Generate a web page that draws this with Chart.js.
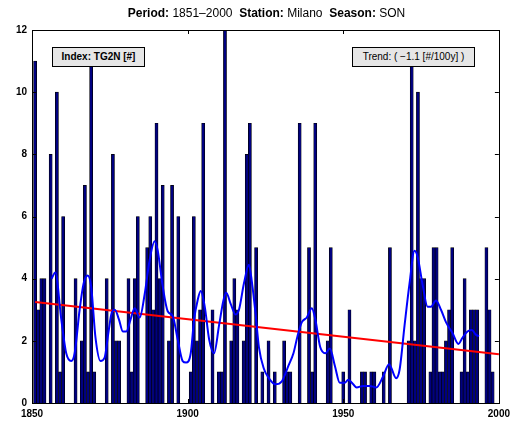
<!DOCTYPE html>
<html>
<head>
<meta charset="utf-8">
<script src="https://cdn.jsdelivr.net/npm/chart.js@4.4.1/dist/chart.umd.min.js"></script>
<style>
body { margin: 0; background: #fff; }
#wrap { position: relative; width: 515px; height: 425px; font-family: "Liberation Sans", Arial, sans-serif; }
#title { position: absolute; left: 0; top: 6px; width: 533px; text-align: center; font-size: 12px; color: #000; white-space: pre; }
.box { position: absolute; top: 47px; height: 18px; line-height: 18px; border: 1px solid #000; background: #e6e6e6; font-size: 10px; text-align: center; color: #000; white-space: pre; }
#idx { left: 52px; width: 91px; font-weight: bold; }
#trend { left: 352px; width: 121px; }
</style>
</head>
<body>
<div id="wrap">
  <canvas id="c" width="515" height="425"></canvas>
  <div id="title"><b>Period:</b> 1851–2000  <b>Station:</b> Milano  <b>Season:</b> SON</div>
  <div class="box" id="idx">Index: TG2N [#]</div>
  <div class="box" id="trend">Trend: ( −1.1 [#/100y] )</div>
</div>
<script>
const firstYear = 1851;
// TG2N counts per year, 1851..2000
const counts = [
  11, 3, 4, 4, 0, 8, 0, 10, 1, 6,
  0, 0, 0, 4, 0, 2, 7, 1, 11, 1,
  0, 0, 0, 4, 0, 8, 2, 2, 0, 0,
  4, 1, 4, 6, 0, 0, 5, 6, 3, 9,
  4, 7, 0, 2, 7, 0, 6, 0, 0, 0,
  1, 6, 2, 3, 9, 0, 0, 3, 0, 1,
  1, 12, 0, 2, 4, 3, 0, 2, 8, 9,
  0, 5, 0, 1, 0, 2, 0, 1, 0, 0,
  2, 1, 1, 0, 0, 9, 0, 0, 5, 1,
  9, 0, 0, 0, 2, 5, 0, 0, 0, 1,
  0, 3, 0, 0, 0, 1, 1, 0, 1, 1,
  0, 0, 1, 0, 5, 0, 0, 0, 0, 0,
  2, 11, 2, 10, 4, 4, 0, 1, 5, 5,
  1, 1, 2, 3, 5, 0, 0, 1, 4, 1,
  3, 3, 3, 0, 0, 5, 3, 1, 0, 0
];

// smoothed curve
const smoothYears = [
  1856.3, 1857.5, 1859.4, 1861, 1862.6, 1863.7, 1865.3, 1866.6, 1867.9, 1869,
  1870.4, 1872, 1873.3, 1874.6, 1875.6, 1876.6, 1877.9, 1879.2, 1880.3, 1881.7,
  1883, 1884.6, 1886.2, 1887.8, 1889.4, 1890.4, 1892, 1893.6, 1895.2, 1896.8,
  1898.4, 1899.5, 1901, 1902.1, 1903.2, 1904.2, 1905.5, 1906.9, 1908.5, 1910.1,
  1911.5, 1912.4, 1913.8, 1915.4, 1916.5, 1918.1, 1919.7, 1920.7, 1921.8, 1922.9,
  1924.5, 1926.1, 1928.2, 1930.3, 1932.4, 1934, 1935.3, 1936.7, 1938.3, 1939.9,
  1941, 1942.6, 1944.2, 1945.7, 1947.3, 1948.9, 1950.5, 1951.6, 1953.2, 1954.3,
  1956.4, 1958.5, 1960.6, 1962.8, 1964.7, 1967, 1968.1, 1969.7, 1971.3, 1972.9,
  1973.9, 1975.5, 1977.1, 1978.2, 1979.8, 1981.4, 1983, 1985.1, 1987, 1988.3,
  1989.9, 1991.3, 1992.6, 1993.6
];
const smoothValues = [
  4.0, 4.2, 2.7, 1.6, 1.35, 1.6, 3.0, 3.85, 4.1, 3.75,
  2.1, 1.35, 1.45, 2.3, 2.9, 3.0, 2.7, 2.3, 2.3, 2.7,
  3.05, 2.75, 3.5, 4.6, 5.2, 4.9, 3.75, 2.95, 2.8, 2.05,
  1.35, 1.3, 1.6, 2.7, 3.3, 3.6, 3.1, 2.05, 1.6, 2.5,
  3.3, 3.55, 3.2, 2.85, 3.0, 3.85, 4.45, 3.85, 2.9, 1.8,
  1.1, 0.8, 0.6, 0.7, 1.2, 1.6, 2.15, 2.6, 2.75, 3.05,
  2.7, 1.8, 1.6, 1.75, 1.2, 0.65, 0.65, 0.75, 0.6, 0.5,
  0.55, 0.55, 0.5, 0.85, 1.25, 0.8, 1.07, 2.5, 3.85, 4.9,
  4.7, 3.8, 3.1, 3.1, 3.3, 3.0, 2.6, 2.25, 1.9, 2.1,
  2.3, 2.35, 2.2, 2.15
];

const trendYears = [1851, 2000];
const trendValues = [3.25, 1.57];

const xTicks = [1850, 1900, 1950, 2000];
const yTicks = [0, 2, 4, 6, 8, 10, 12];

const tickFont = { family: "Liberation Sans", size: 10, weight: "bold" };

// MATLAB style box with inward ticks on all four sides
const frame = {
  id: "frame",
  afterDraw(chart) {
    const { ctx, chartArea: a, scales: { x, y } } = chart;
    const len = 4;
    ctx.save();
    ctx.strokeStyle = "#000";
    ctx.lineWidth = 1;
    ctx.strokeRect(Math.round(a.left) + 0.5, Math.round(a.top) + 0.5,
      Math.round(a.right) - Math.round(a.left), Math.round(a.bottom) - Math.round(a.top));
    ctx.beginPath();
    xTicks.forEach(v => {
      const px = Math.round(x.getPixelForValue(v)) + 0.5;
      ctx.moveTo(px, a.bottom); ctx.lineTo(px, a.bottom - len);
      ctx.moveTo(px, a.top); ctx.lineTo(px, a.top + len);
    });
    yTicks.forEach(v => {
      const py = Math.round(y.getPixelForValue(v)) + 0.5;
      ctx.moveTo(a.left, py); ctx.lineTo(a.left + len, py);
      ctx.moveTo(a.right, py); ctx.lineTo(a.right - len, py);
    });
    ctx.stroke();
    ctx.restore();
  }
};

new Chart(document.getElementById("c"), {
  type: "bar",
  data: {
    datasets: [
      {
        type: "line",
        data: smoothYears.map((yr, i) => ({ x: yr, y: smoothValues[i] })),
        borderColor: "#0000ff",
        borderWidth: 2,
        pointRadius: 0,
        cubicInterpolationMode: "monotone",
        order: 1
      },
      {
        type: "line",
        data: trendYears.map((yr, i) => ({ x: yr, y: trendValues[i] })),
        borderColor: "#ff0000",
        borderWidth: 2,
        pointRadius: 0,
        order: 2
      },
      {
        type: "bar",
        data: counts.map((v, i) => ({ x: firstYear + i, y: v })),
        backgroundColor: "#000080",
        borderColor: "#000000",
        borderWidth: 0.7,
        barPercentage: 1,
        categoryPercentage: 1,
        order: 3
      }
    ]
  },
  options: {
    responsive: false,
    animation: false,
    layout: { padding: { top: 30, right: 13, left: 0, bottom: 0 } },
    plugins: { legend: { display: false }, tooltip: { enabled: false } },
    scales: {
      x: {
        type: "linear",
        min: 1850,
        max: 2000,
        offset: false,
        afterBuildTicks: s => { s.ticks = xTicks.map(v => ({ value: v })); },
        afterFit: s => { s.height = 22; },
        grid: { display: false, drawTicks: false },
        border: { display: false },
        ticks: { color: "#000", font: tickFont, padding: 5, maxRotation: 0, autoSkip: false, callback: v => String(v) }
      },
      y: {
        min: 0,
        max: 12,
        afterBuildTicks: s => { s.ticks = yTicks.map(v => ({ value: v })); },
        afterFit: s => { s.width = 32; },
        grid: { display: false, drawTicks: false },
        border: { display: false },
        ticks: { color: "#000", font: tickFont, padding: 5 }
      }
    }
  },
  plugins: [frame]
});
</script>
</body>
</html>
